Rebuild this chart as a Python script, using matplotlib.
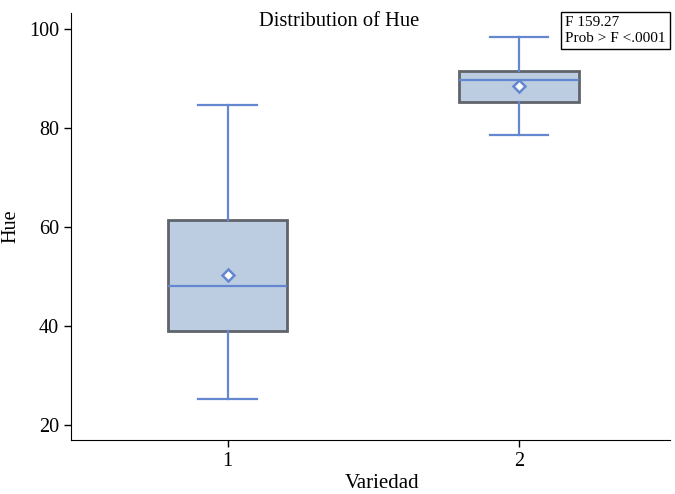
import matplotlib
matplotlib.use('Agg')
import matplotlib.pyplot as plt

# five-number summaries
groups = ['1', '2']
whislo = [25.2, 78.5]
q1 = [39.0, 85.2]
med = [48.0, 89.6]
q3 = [61.3, 91.5]
whishi = [84.6, 98.3]
means = [50.2, 88.4]
f_value = '159.27'
p_value = '<.0001'

plt.rcParams['font.family'] = ['Liberation Serif', 'DejaVu Serif']

LINE = '#6487d0'
FILL = '#bccde2'
EDGE = '#60646b'

fig = plt.figure(figsize=(6.75, 4.94), dpi=100)
ax = fig.add_axes([0.105, 0.109, 0.888, 0.865])

stats = [dict(label=g, whislo=lo, q1=a, med=m, q3=b, whishi=hi, mean=mu)
         for g, lo, a, m, b, hi, mu in zip(groups, whislo, q1, med, q3, whishi, means)]
ax.bxp(stats, positions=[1, 2], widths=0.41, patch_artist=True, showmeans=True,
       showfliers=False,
       boxprops=dict(facecolor=FILL, edgecolor=EDGE, linewidth=2.0),
       medianprops=dict(color=LINE, linewidth=1.6),
       whiskerprops=dict(color=LINE, linewidth=1.6),
       capprops=dict(color=LINE, linewidth=1.6),
       capwidths=0.2,
       meanprops=dict(marker='D', markersize=6, markerfacecolor='white',
                      markeredgecolor=LINE, markeredgewidth=1.8))

ax.set_xlim(0.462, 2.52)
ax.set_ylim(16.97, 103.2)
ax.set_yticks([20, 40, 60, 80, 100])
ax.spines['top'].set_visible(False)
ax.spines['right'].set_visible(False)
ax.tick_params(labelsize=14.5, length=5, width=1)
ax.set_ylabel('Hue', fontsize=14.5, labelpad=6)
ax.set_xlabel('Variedad', fontsize=15, labelpad=4)
ax.xaxis.set_label_coords(0.52, -0.08)

fig.text(0.503, 0.957, 'Distribution of Hue', fontsize=14.8, ha='center', va='center')
ax.text(0.992, 0.992, f'F {f_value}\nProb > F {p_value}', transform=ax.transAxes,
        fontsize=11, ha='right', va='top', multialignment='left', linespacing=1.25,
        bbox=dict(boxstyle='square,pad=0.28', facecolor='white', edgecolor='black', lw=1))

fig.savefig('out.png', dpi=100)
